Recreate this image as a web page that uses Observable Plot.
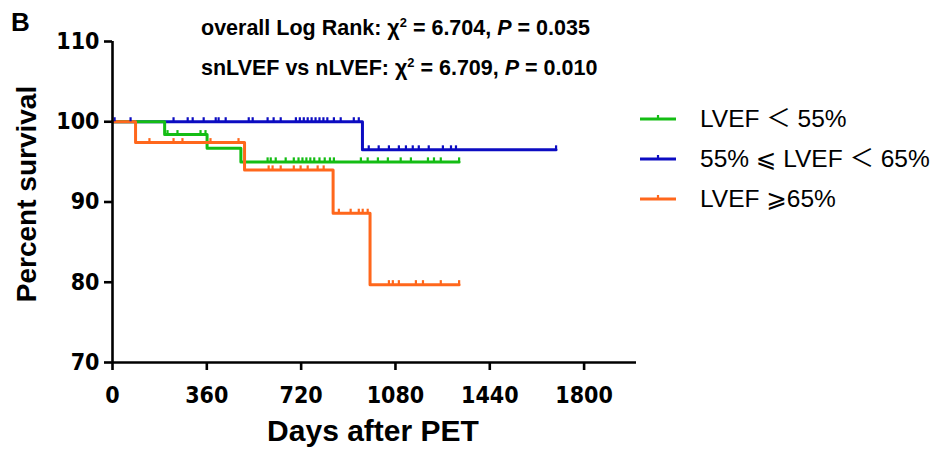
<!DOCTYPE html>
<html>
<head>
<meta charset="utf-8">
<script src="https://cdn.jsdelivr.net/npm/d3@7"></script>
<script src="https://cdn.jsdelivr.net/npm/@observablehq/plot@0.6"></script>
<style>
  html, body { margin: 0; padding: 0; background: #fff; }
  #wrap { position: relative; width: 938px; height: 449px; font-family: "Liberation Sans", Arial, sans-serif; color: #000; }
  #wrap svg.plot { position: absolute; left: 0; top: 0; }
  #wrap svg g[aria-label$="tick"] path { stroke-width: 2.6px; }
  .ov { position: absolute; white-space: nowrap; }
  .stat { font-weight: bold; font-size: 21.5px; line-height: 24px; }
  .stat sup { font-size: 0.6em; vertical-align: 0; position: relative; top: -0.6em; line-height: 0; }
  .leg { font-size: 24.5px; line-height: 28px; font-family: "Liberation Sans", "DejaVu Sans", "Noto Sans CJK SC", sans-serif; }
  .axl { font-weight: bold; }
</style>
</head>
<body>
<div id="wrap"></div>
<script>
// ---- data ----
const groups = ["LVEF ＜ 55%", "55% ⩽ LVEF ＜ 65%", "LVEF ⩾65%"];
const colors = ["#14bd14", "#0c0cc2", "#ff671c"];

// step points: time of each drop and survival after it (last point = end of follow-up)
const greenTimes = [0, 199, 361, 490, 1323];
const greenSurv  = [100, 98.4, 96.7, 95.0, 95.0];
const blueTimes  = [0, 954, 1693];
const blueSurv   = [100, 96.5, 96.5];
const orangeTimes = [0, 88, 504, 842, 983, 1323];
const orangeSurv  = [100, 97.4, 94.0, 88.6, 79.7, 79.7];

// censored observations (days)
const greenCensor = [210, 248, 336, 355, 592, 604, 623, 661, 692, 710, 725, 740, 755, 770, 790, 810, 830, 845, 948, 974, 1013, 1051, 1100, 1139, 1204, 1227, 1253, 1323];
const blueCensor  = [8, 69, 233, 287, 306, 348, 394, 405, 432, 520, 535, 592, 615, 642, 700, 715, 730, 745, 760, 775, 790, 805, 820, 845, 871, 921, 940, 978, 1016, 1055, 1093, 1120, 1146, 1169, 1207, 1261, 1292, 1311, 1693];
const orangeCensor = [141, 233, 267, 374, 481, 596, 611, 642, 692, 718, 745, 783, 806, 864, 909, 940, 955, 974, 1055, 1070, 1093, 1158, 1185, 1253, 1323];

const xTicks = [0, 360, 720, 1080, 1440, 1800];
const yTicks = [70, 80, 90, 100, 110];
const xDomain = [0, 2000];
const yDomain = [70, 110];

const statLine1 = 'overall Log Rank: χ<sup>2</sup> = 6.704, <i>P</i> = 0.035';
const statLine2 = 'snLVEF vs nLVEF: χ<sup>2</sup> = 6.709, <i>P</i> = 0.010';
const xLabel = "Days after PET";
const yLabel = "Percent survival";
const panelLetter = "B";

// ---- build tables ----
const series = [
  {g: groups[1], times: blueTimes, surv: blueSurv, cens: blueCensor},
  {g: groups[0], times: greenTimes, surv: greenSurv, cens: greenCensor},
  {g: groups[2], times: orangeTimes, surv: orangeSurv, cens: orangeCensor}
];
const steps = [], censors = [];
for (const s of series) {
  s.times.forEach((t, i) => steps.push({group: s.g, t, s: s.surv[i]}));
  for (const t of s.cens) {
    let v = s.surv[0];
    s.times.forEach((tt, i) => { if (tt <= t) v = s.surv[i]; });
    censors.push({group: s.g, t, s: v});
  }
}

const tickFont = '"DejaVu Sans Condensed", "Liberation Sans", sans-serif';

const chart = Plot.plot({
  width: 938, height: 449,
  marginLeft: 112, marginRight: 302, marginTop: 41, marginBottom: 87,
  style: {fontFamily: tickFont, fontSize: "23px", fontWeight: "bold", color: "#000", background: "transparent"},
  x: {domain: xDomain},
  y: {domain: yDomain},
  color: {domain: groups, range: colors},
  marks: [
    Plot.line(steps, {x: "t", y: "s", z: "group", stroke: "group", curve: "step-after", strokeWidth: 3}),
    Plot.ruleX(censors, {x: "t", y1: "s", y2: d => d.s + 0.5, stroke: "group", strokeWidth: 2.2}),
    Plot.ruleY([yDomain[0]], {stroke: "#000", strokeWidth: 2.6}),
    Plot.ruleX([xDomain[0]], {stroke: "#000", strokeWidth: 2.6}),
    Plot.axisX({ticks: xTicks, tickSize: 8, tickPadding: 16, strokeWidth: 2.6, fontSize: 23, fontWeight: "bold", label: null, tickFormat: d => String(d)}),
    Plot.axisY({ticks: yTicks, tickSize: 8, tickPadding: 5, strokeWidth: 2.6, fontSize: 23, fontWeight: "bold", label: null})
  ]
});

const wrap = document.getElementById("wrap");
wrap.appendChild(chart);

function addDiv(cls, html, css) {
  const d = document.createElement("div");
  d.className = "ov " + cls;
  d.innerHTML = html;
  Object.assign(d.style, css);
  wrap.appendChild(d);
  return d;
}
addDiv("", panelLetter, {left: "11px", top: "7px", fontWeight: "bold", fontSize: "26px"});
addDiv("stat", statLine1, {left: "201px", top: "16px"});
addDiv("stat", statLine2, {left: "201px", top: "56px"});
addDiv("axl", xLabel, {left: "373px", top: "416px", fontSize: "30px", lineHeight: "30px", transform: "translateX(-50%)"});
const yl = addDiv("axl", yLabel, {left: "27px", top: "194px", fontSize: "28px", lineHeight: "32px"});
yl.style.transform = "translate(-50%, -50%) rotate(-90deg)";

// legend built from groups/colors
const legendRows = [0, 1, 2];
legendRows.forEach((i, k) => {
  const cy = 119 + 40 * k;
  const sw = document.createElementNS("http://www.w3.org/2000/svg", "svg");
  sw.setAttribute("width", 40); sw.setAttribute("height", 12);
  sw.style.position = "absolute"; sw.style.left = "638px"; sw.style.top = (cy - 7) + "px";
  sw.innerHTML = `<line x1="2" x2="38" y1="7" y2="7" stroke="${colors[i]}" stroke-width="3"/><line x1="20" x2="20" y1="7" y2="3" stroke="${colors[i]}" stroke-width="2.2"/>`;
  wrap.appendChild(sw);
  addDiv("leg", groups[i], {left: "700px", top: (cy - 14) + "px"});
});
</script>
</body>
</html>
